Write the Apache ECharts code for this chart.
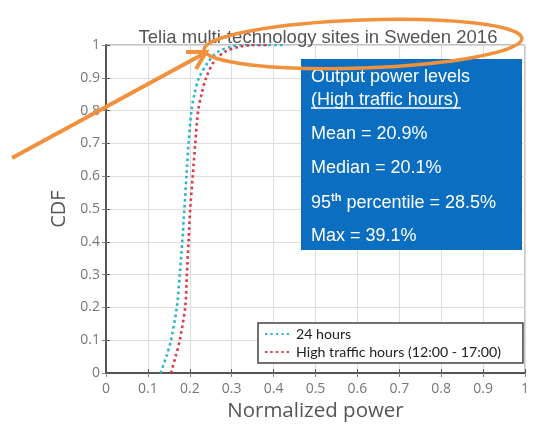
<!DOCTYPE html>
<html><head><meta charset="utf-8">
<script src="https://cdn.jsdelivr.net/npm/echarts@6/dist/echarts.min.js"></script>
<style>html,body{margin:0;padding:0;background:#fff}#c{width:533px;height:427px}</style>
</head><body><div id="c"></div>
<script>
// CDF levels (y) and normalized power (x)
const cdfLevels = [0, 0.05, 0.1, 0.2, 0.3, 0.4, 0.5, 0.6, 0.7, 0.8, 0.85, 0.9, 0.95, 0.98, 0.995, 1, 1];
const power24h  = [0.130, 0.144, 0.155, 0.169, 0.176, 0.182, 0.187, 0.192, 0.197, 0.204, 0.211, 0.222, 0.245, 0.268, 0.300, 0.330, 0.430];
const powerHigh = [0.155, 0.166, 0.176, 0.189, 0.193, 0.197, 0.201, 0.207, 0.213, 0.220, 0.228, 0.239, 0.258, 0.285, 0.320, 0.350, 0.391];
const seriesNames = ['24 hours', 'High traffic hours (12:00 - 17:00)'];
const xTicks = ['0','0.1','0.2','0.3','0.4','0.5','0.6','0.7','0.8','0.9','1'];
const statsTitle = 'Output power levels';
const statsSub = '(High traffic hours)';
const statsMean = 'Mean = 20.9%';
const statsMedian = 'Median = 20.1%';
const statsP95 = ['95', 'th', ' percentile = 28.5%'];
const statsMax = 'Max = 39.1%';
const chartTitle = 'Telia multi-technology sites in Sweden 2016';

const pairs = (xs) => xs.map((x, i) => [x, cdfLevels[i]]);
const chart = echarts.init(document.getElementById('c'), null, {renderer: 'canvas'});
const tickFont = {color: '#777', fontSize: 14, fontFamily: 'Open Sans'};
const orange = '#f2913d';
const blueFont = 'Liberation Sans, Arial';
const dotIcon = 'path://M0 0h2v2H0zM5 0h2v2H5zM10 0h2v2h-2zM15 0h2v2h-2zM20 0h2v2h-2z';

chart.setOption({
  animation: false,
  title: {text: chartTitle, left: 313, textAlign: 'center', top: 23,
    textStyle: {fontSize: 18.5, fontWeight: 'normal', color: '#555', fontFamily: 'Liberation Sans, Arial'}},
  grid: {left: 106, right: 8, top: 45, bottom: 51, show: true, borderColor: '#888', borderWidth: 1},
  legend: {
    orient: 'vertical', left: 258, top: 323,
    backgroundColor: '#fff', borderColor: '#444', borderWidth: 1.5, borderRadius: 0,
    padding: [4, 22, 4, 7], itemGap: 4, itemWidth: 24, itemHeight: 3,
    icon: dotIcon,
    textStyle: {fontSize: 14.2, color: '#222', fontFamily: 'Lato', padding: [0, 0, 0, 2]},
    data: seriesNames
  },
  xAxis: [{
    type: 'value', min: 0, max: 1, interval: 0.1,
    axisLine: {show: true, onZero: false, lineStyle: {color: '#555', width: 2}},
    axisTick: {show: true, inside: true, length: 4, lineStyle: {color: '#555'}},
    axisLabel: Object.assign({margin: 9, formatter: (v) => xTicks[Math.round(v * 10)]}, tickFont),
    splitLine: {show: true, lineStyle: {color: '#ddd', width: 1}},
    name: 'Normalized power', nameLocation: 'middle', nameGap: 26,
    nameTextStyle: {fontSize: 20.5, color: '#555', fontFamily: 'Open Sans'}
  }, {
    type: 'value', min: 0, max: 1, interval: 0.1, position: 'top',
    axisLine: {show: false}, axisLabel: {show: false}, splitLine: {show: false},
    axisTick: {show: true, inside: true, length: 4, lineStyle: {color: '#888'}}
  }],
  yAxis: [{
    type: 'value', min: 0, max: 1, interval: 0.1,
    axisLine: {show: true, onZero: false, lineStyle: {color: '#555', width: 2}},
    axisTick: {show: true, inside: true, length: 4, lineStyle: {color: '#555'}},
    axisLabel: Object.assign({margin: 6, formatter: (v) => xTicks[Math.round(v * 10)]}, tickFont),
    splitLine: {show: true, lineStyle: {color: '#ddd', width: 1}},
    name: 'CDF', nameLocation: 'middle', nameGap: 30, nameRotate: 90,
    nameTextStyle: {fontSize: 20, color: '#555', fontFamily: 'Open Sans'}
  }, {
    type: 'value', min: 0, max: 1, interval: 0.1, position: 'right',
    axisLine: {show: false}, axisLabel: {show: false}, splitLine: {show: false},
    axisTick: {show: true, inside: true, length: 4, lineStyle: {color: '#888'}}
  }],
  series: [{
    name: seriesNames[0], type: 'line', data: pairs(power24h), showSymbol: false, symbol: 'none',
    smooth: 0.3, color: '#2eb3c9',
    lineStyle: {color: '#2eb3c9', width: 2.6, type: [2.6, 3.2]}
  }, {
    name: seriesNames[1], type: 'line', data: pairs(powerHigh), showSymbol: false, symbol: 'none',
    smooth: 0.3, color: '#d83a4c',
    lineStyle: {color: '#d83a4c', width: 2.6, type: [2.6, 3.2]}
  }],
  graphic: [
    {type: 'rect', left: 301, top: 59, shape: {x: 0, y: 0, width: 221, height: 191}, style: {fill: '#0b6ec1'}, z: 10},
    {type: 'text', x: 311, y: 77, style: {text: statsTitle, fill: '#fff', font: '18px ' + blueFont, textVerticalAlign: 'middle'}, z: 11},
    {type: 'text', x: 311, y: 100, style: {text: statsSub, fill: '#fff', font: '18px ' + blueFont, textVerticalAlign: 'middle'}, z: 11},
    {type: 'line', shape: {x1: 311, y1: 108, x2: 461, y2: 108}, style: {stroke: '#fff', lineWidth: 1.3}, z: 11},
    {type: 'text', x: 311, y: 134, style: {text: statsMean, fill: '#fff', font: '18px ' + blueFont, textVerticalAlign: 'middle'}, z: 11},
    {type: 'text', x: 311, y: 168, style: {text: statsMedian, fill: '#fff', font: '18px ' + blueFont, textVerticalAlign: 'middle'}, z: 11},
    {type: 'text', x: 311, y: 202, style: {
      text: '{a|' + statsP95[0] + '}{s|' + statsP95[1] + '}{a|' + statsP95[2] + '}',
      rich: {a: {fill: '#fff', fontSize: 18, fontFamily: blueFont, verticalAlign: 'bottom', lineHeight: 20},
             s: {fill: '#fff', fontSize: 11, fontWeight: 'bold', fontFamily: blueFont, verticalAlign: 'top', lineHeight: 20, padding: [0,0,8,0]}},
      textVerticalAlign: 'middle'}, z: 11},
    {type: 'text', x: 311, y: 236, style: {text: statsMax, fill: '#fff', font: '18px ' + blueFont, textVerticalAlign: 'middle'}, z: 11},
    {type: 'group', x: 363, y: 44, rotation: 0.035, z: 20, children: [
      {type: 'ellipse', shape: {cx: 0, cy: 0, rx: 159, ry: 24}, style: {fill: 'none', stroke: orange, lineWidth: 3.5}, z: 20}
    ]},
    {type: 'polyline', shape: {points: [[12, 158], [205, 53]]}, style: {stroke: orange, lineWidth: 4, fill: 'none'}, z: 20},
    {type: 'polyline', shape: {points: [[186, 52], [206, 52], [196, 69]]}, style: {stroke: orange, lineWidth: 4, fill: 'none', lineJoin: 'miter'}, z: 20}
  ]
});
</script></body></html>
